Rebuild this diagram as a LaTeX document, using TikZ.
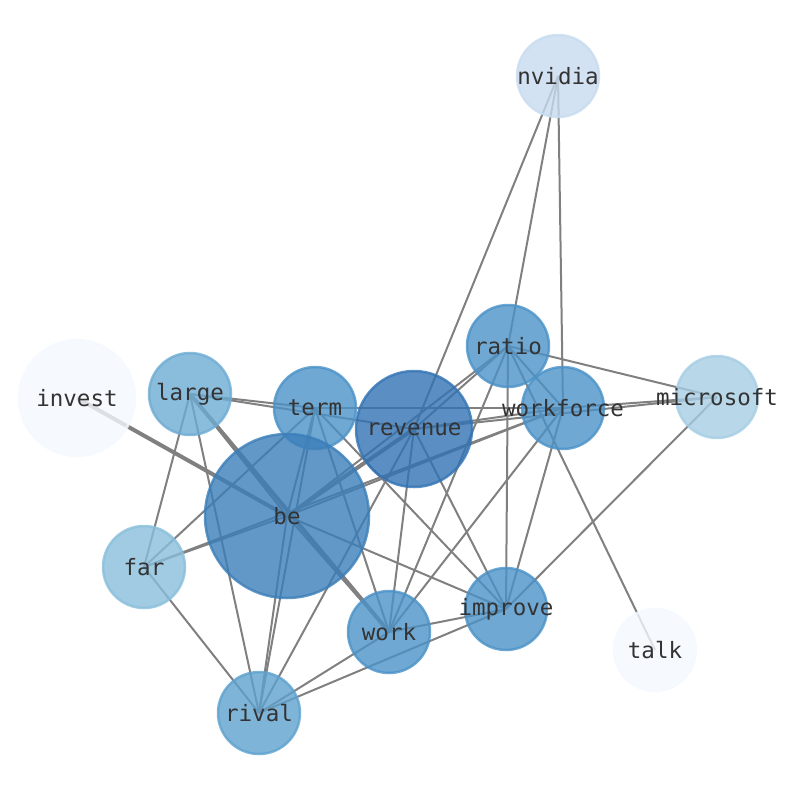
\documentclass[tikz,border=0pt]{standalone}
\usepackage{fontspec}
\setmonofont{DejaVu Sans Mono}
\usetikzlibrary{backgrounds}
\definecolor{linkgray}{RGB}{128,128,128}
\definecolor{textgray}{RGB}{51,51,51}
\definecolor{bluerev}{RGB}{50,115,180}
\definecolor{bluebe}{RGB}{59,126,185}
\definecolor{bluemid}{RGB}{75,146,199}
\definecolor{bluerival}{RGB}{94,161,206}
\definecolor{bluelarge}{RGB}{109,171,211}
\definecolor{bluefar}{RGB}{136,190,219}
\definecolor{bluems}{RGB}{166,205,228}
\definecolor{bluenv}{RGB}{200,219,239}
\definecolor{bluepale}{RGB}{244,249,255}
\begin{document}
\begin{tikzpicture}[
        x = 1pt, y = -1pt,
        every node/.style = {circle, inner sep = -40pt, minimum size = 82pt,
            line width = 2.5pt, fill opacity = 0.8, draw opacity = 0.8,
            text opacity = 1, text = textgray,
            font = \ttfamily\fontsize{22.5}{26}\selectfont},
        big/.style = {minimum size = 116pt},
        huge/.style = {minimum size = 164pt},
        link/.style = {draw = linkgray, line width = 2pt},
        heavy/.style = {link, line width = 4pt},
        ]
    \useasboundingbox (0,0) rectangle (794,790);
    % words
    \node[fill = bluenv, draw = bluenv] (nvidia) at (558,76) {nvidia};
    \node[fill = bluemid, draw = bluemid] (ratio) at (508,346) {ratio};
    \node[fill = bluemid, draw = bluemid] (workforce) at (563,408) {workforce};
    \node[fill = bluems, draw = bluems] (microsoft) at (717,397) {microsoft};
    \node[big, fill = bluerev, draw = bluerev] (revenue) at (414,429) {revenue};
    \node[fill = bluemid, draw = bluemid] (term) at (315,408) {term};
    \node[fill = bluelarge, draw = bluelarge] (large) at (190,394) {large};
    \node[big, fill = bluepale, draw = bluepale] (invest) at (77,398) {invest};
    \node[huge, fill = bluebe, draw = bluebe] (be) at (287,516) {be};
    \node[fill = bluefar, draw = bluefar] (far) at (144,567) {far};
    \node[fill = bluemid, draw = bluemid] (work) at (389,632) {work};
    \node[fill = bluemid, draw = bluemid] (improve) at (506,609) {improve};
    \node[fill = bluepale, draw = bluepale] (talk) at (655,650) {talk};
    \node[fill = bluerival, draw = bluerival] (rival) at (259,713) {rival};
    % links
    \begin{pgfonlayer}{background}
        \draw[heavy] (invest.center) -- (be.center);
        \draw[heavy] (large.center) -- (work.center);
        \draw[heavy] (revenue.center) -- (be.center);
        \foreach \a/\b in {nvidia/revenue, nvidia/ratio, nvidia/workforce,
                large/term, large/revenue, large/far, large/rival, large/be,
                term/workforce, term/far, term/be, term/rival, term/work, term/improve,
                revenue/workforce, revenue/microsoft, revenue/ratio, revenue/work,
                revenue/improve, revenue/rival,
                ratio/microsoft, ratio/talk, ratio/work, ratio/improve,
                ratio/workforce, ratio/be,
                workforce/microsoft, workforce/be, workforce/work,
                workforce/improve, workforce/far,
                microsoft/improve,
                be/far, be/work, be/improve, be/rival,
                far/rival, work/improve, work/rival, improve/rival}
            \draw[link] (\a.center) -- (\b.center);
    \end{pgfonlayer}
\end{tikzpicture}
\end{document}
